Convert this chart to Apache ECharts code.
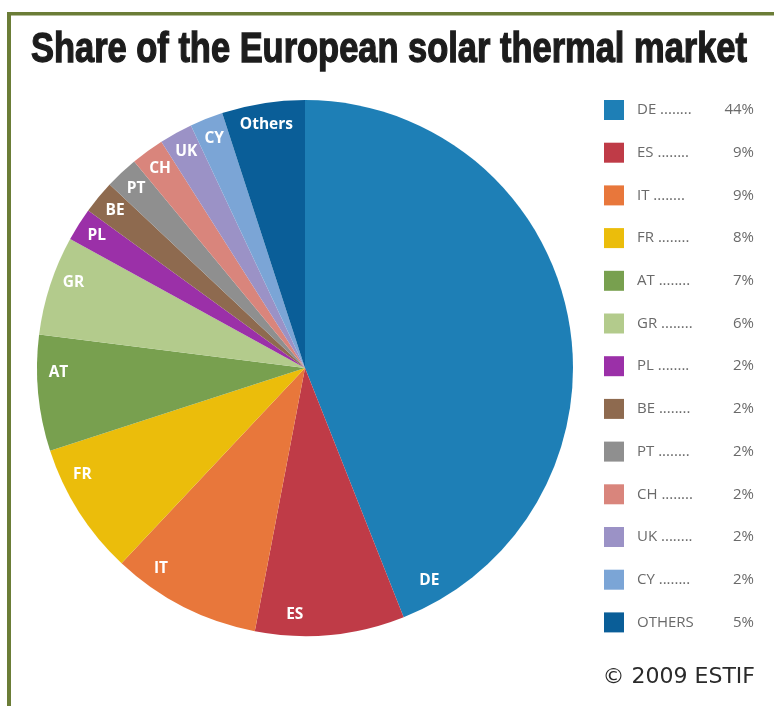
<!DOCTYPE html>
<html><head><meta charset="utf-8">
<script src="https://cdn.jsdelivr.net/npm/echarts@6/dist/echarts.min.js"></script>
<style>html,body{margin:0;padding:0;background:#fff}#c{width:774px;height:706px}</style>
</head><body><div id="c"></div>
<script>
// ---- data ----
const categories = ['DE','ES','IT','FR','AT','GR','PL','BE','PT','CH','UK','CY','OTHERS'];
const sliceLabels = ['DE','ES','IT','FR','AT','GR','PL','BE','PT','CH','UK','CY','Others'];
const shares = [44,9,9,8,7,6,2,2,2,2,2,2,5];
const colors = ['#1e7fb6','#bf3b47','#e8773b','#ebbd0b','#78a04f','#b3cb8c','#9b30a8','#8e6a4f','#8f8f8f','#d9857c','#9b92c6','#7ba5d6','#0a5e98'];

// ---- layout / style ----
const CX = 305, CY = 368, R = 268;
const labelFrac = [0.945,0.74,0.77,0.74,0.67,0.6,0.5,0.5,0.5,0.5,0.5,0.5,0.5];
const labelRadius = 0.92;
const total = shares.reduce((a,b)=>a+b,0);
const cum = []; { let s = 0; shares.forEach(v=>{cum.push(s); s+=v;}); }

const TITLE = 'Share of the European solar thermal market';
const titleFont = 'bold 42px "Liberation Sans"';
const mctx = document.createElement('canvas').getContext('2d');
mctx.font = titleFont;
const titleW = mctx.measureText(TITLE).width;
const titleScale = 716 / titleW;

const legendText = {color: '#6a6a6a', fontFamily: 'Open Sans', fontSize: 15, lineHeight: 20};

const chart = echarts.init(document.getElementById('c'), null, {renderer:'canvas'});
chart.setOption({
  animation: false,
  backgroundColor: '#fff',
  legend: {
    orient: 'vertical', left: 604, top: 100, padding: 0,
    itemWidth: 20, itemHeight: 20, itemGap: 22.7, icon: 'rect',
    selectedMode: false,
    data: categories,
    formatter: function(name){
      const i = categories.indexOf(name);
      const dots = name === 'OTHERS' ? '' : ' ........';
      return '{n|' + name + dots + '}{p|' + shares[i] + '%}';
    },
    textStyle: Object.assign({}, legendText, {
      rich: {
        n: Object.assign({width: 80, padding: [0,0,0,8]}, legendText),
        p: Object.assign({width: 37, align: 'right'}, legendText)
      }
    })
  },
  graphic: [
    {type:'rect', shape:{x:7, y:12, width:767, height:3.5}, style:{fill:'#6b7d37'}, silent:true},
    {type:'rect', shape:{x:7, y:12, width:4, height:694}, style:{fill:'#6b7d37'}, silent:true},
    {type:'text', x:31, y:50, scaleX: titleScale,
      style:{text: TITLE, font: titleFont, fill:'#1c1c1c', stroke:'#1c1c1c', lineWidth:1.3, textAlign:'left', textVerticalAlign:'middle'}},
    {type:'text', x:755, y:677,
      style:{text:'\u00A9 2009 ESTIF', font:'22px "DejaVu Sans"', fill:'#2a2a2a', textAlign:'right', textVerticalAlign:'middle'}}
  ],
  series: [{
    type: 'pie',
    center: [CX, CY], radius: R,
    startAngle: 90, clockwise: true,
    avoidLabelOverlap: false,
    emphasis: {disabled: true},
    data: categories.map((c,i)=>({name:c, value:shares[i], itemStyle:{color:colors[i]}})),
    label: {
      show: true, position: 'inside',
      formatter: p => sliceLabels[p.dataIndex],
      color: '#fff', fontFamily: 'Open Sans', fontWeight: 'bold', fontSize: 15.5
    },
    labelLine: {show: false},
    labelLayout: function(p){
      const i = p.dataIndex;
      const a = (cum[i] + shares[i]*labelFrac[i]) / total * 2 * Math.PI;
      const r = R * labelRadius;
      return {x: CX + r*Math.sin(a), y: CY - r*Math.cos(a), align:'center', verticalAlign:'middle'};
    }
  }]
});
</script>
</body></html>
